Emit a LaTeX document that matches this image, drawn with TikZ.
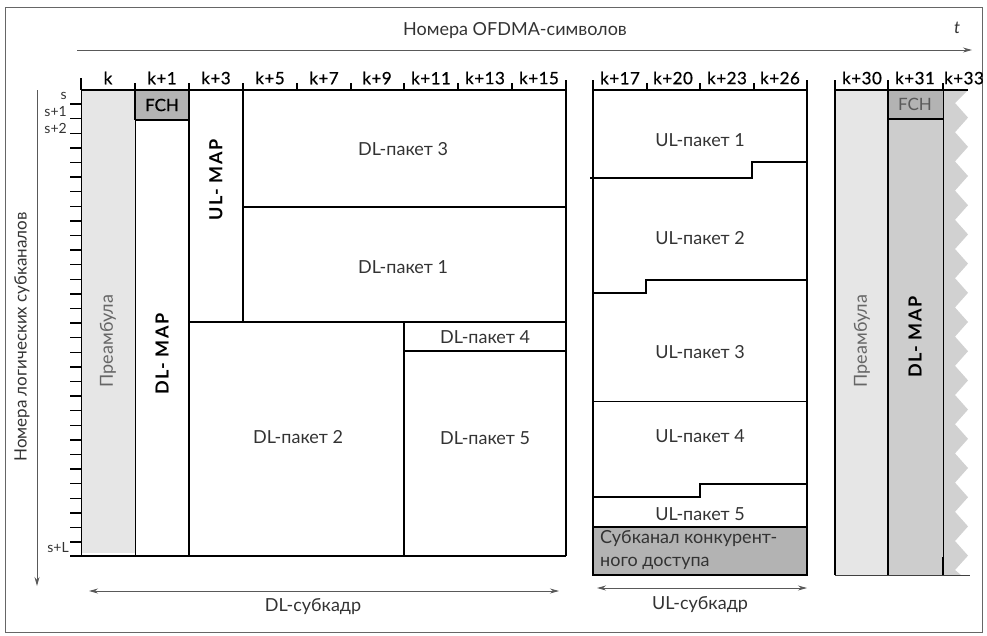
\documentclass[tikz,border=0pt]{standalone}
\usepackage{fontspec}
\setmainfont{Lato}
\usetikzlibrary{arrows.meta}
\definecolor{pre}{HTML}{E6E6E6}
\definecolor{fch}{HTML}{B3B3B3}
\definecolor{mapc}{HTML}{CDCDCD}
\definecolor{txtc}{HTML}{333333}
\begin{document}
\begin{tikzpicture}[x=1pt,y=-1pt,
  bl/.style={draw=black, line width=1.6pt},
  thinl/.style={draw=black, line width=0.9pt},
  axisl/.style={draw=black!65, line width=0.9pt},
  arr/.style={-{Stealth[length=9pt,width=5pt]}},
  darr/.style={{Stealth[length=9pt,width=5pt]}-{Stealth[length=9pt,width=5pt]}},
  txt/.style={font=\fontsize{18}{23}\selectfont, text=txtc, inner sep=0pt},
  col/.style={font=\fontsize{17}{20}\selectfont\addfontfeature{FakeBold=0.6,LetterSpace=3}, text=black, inner sep=0pt},
  bld/.style={font=\fontsize{18}{22}\selectfont\bfseries\addfontfeature{LetterSpace=8}, text=black, inner sep=0pt},
  small/.style={font=\fontsize{14}{16}\selectfont, text=txtc, inner sep=0pt}
]
\useasboundingbox (0,0) rectangle (987,635);
\draw[draw=black!60, line width=0.9pt] (5,7) rectangle (982,632);

% top axis
\coordinate (tA) at (77,50);
\coordinate (tB) at (972,50);
\draw[axisl, arr] (tA) -- (tB);
\node[txt] (ttl) at (515,31) {Номера OFDMA-символов};
\node[txt, font=\fontsize{17}{20}\selectfont\itshape] (tt) at (957,28) {t};

% left axis
\coordinate (lA) at (37,90);
\coordinate (lB) at (37,586);
\draw[axisl, arr] (lA) -- (lB);
\node[txt, font=\fontsize{17}{20}\selectfont, rotate=90] (ltl) at (22,337) {Номера логических субканалов};

% ---------------- DL part ----------------
\fill[pre] (81,90) rectangle (135,553);
\fill[fch] (135,90) rectangle (189,120);
\node[txt, rotate=90, text=black!60] (pre1) at (108,341) {Преамбула};
\node[bld, font=\fontsize{17}{20}\selectfont\addfontfeature{FakeBold=0.6}] (fch1) at (162,105) {FCH};
\node[bld, rotate=90] (dlmap) at (162,354) {DL- MAP};
\node[bld, rotate=90] (ulmap) at (216,180) {UL- MAP};
\node[txt] (dl3) at (403,149) {DL-пакет 3};
\node[txt] (dl1) at (403,267) {DL-пакет 1};
\node[txt] (dl2) at (298,437) {DL-пакет 2};
\node[txt] (dl4) at (485,337) {DL-пакет 4};
\node[txt] (dl5) at (485,438) {DL-пакет 5};

\draw[thinl] (81,90) -- (81,556);
\draw[thinl] (135,90) -- (135,556);
\draw[bl] (81,90) -- (566,90);
\draw[bl] (189,90) -- (189,556);
\draw[bl] (243,90) -- (243,322);
\draw[bl] (404,322) -- (404,556);
\draw[bl] (566,80) -- (566,556);
\draw[bl] (135,120) -- (189,120);
\draw[bl] (135,90) -- (135,120);
\draw[bl] (243,207) -- (566,207);
\draw[bl] (189,322) -- (566,322);
\draw[bl] (404,351) -- (566,351);
\draw[bl] (70,556) -- (566,556);
\draw[bl, line width=1.3pt] (81,78) -- (81,90);
\foreach \x in {135,189,243,297,351,404,458,512}
  \draw[bl, line width=1.3pt] (\x,83) -- (\x,90);
\foreach \i in {0,...,30}
  \draw[bl, line width=1.4pt] (70,{104+14.6*\i}) -- (81,{104+14.6*\i});

\node[col] (ck) at (108,78) {k};
\node[col] (c1) at (162,78) {k+1};
\node[col] (c3) at (216,78) {k+3};
\node[col] (c5) at (270,78) {k+5};
\node[col] (c7) at (324,78) {k+7};
\node[col] (c9) at (377,78) {k+9};
\node[col] (c11) at (431,78) {k+11};
\node[col] (c13) at (485,78) {k+13};
\node[col] (c15) at (539,78) {k+15};

\node[small, anchor=east] (s0) at (67,96) {s};
\node[small, anchor=east] (s1) at (67,112) {s+1};
\node[small, anchor=east] (s2) at (67,128) {s+2};
\node[small, anchor=east] (sL) at (69,548) {s+L};

\coordinate (dA) at (89,591);
\coordinate (dB) at (559,591);
\draw[axisl, darr] (dA) -- (dB);
\node[txt] (dlsf) at (313,607) {DL-субкадр};

% ---------------- UL part ----------------
\fill[fch] (593,527) rectangle (807,575);
\node[txt] (ul1) at (700,140) {UL-пакет 1};
\node[txt] (ul2) at (700,238) {UL-пакет 2};
\node[txt] (ul3) at (700,352) {UL-пакет 3};
\node[txt] (ul4) at (700,436) {UL-пакет 4};
\node[txt] (ul5) at (700,514) {UL-пакет 5};
\node[txt, anchor=west] (cb1) at (600,539) {Субканал конкурент-};
\node[txt, anchor=west] (cb2) at (600,563) {ного доступа};

\draw[bl] (593,90) -- (807,90);
\draw[bl] (593,80) -- (593,575) -- (807,575) -- (807,80);
\foreach \x in {647,700,754}
  \draw[bl, line width=1.3pt] (\x,83) -- (\x,90);
\draw[bl] (590,178) -- (752,178) -- (752,162) -- (807,162);
\draw[bl] (593,293) -- (646,293) -- (646,280) -- (807,280);
\draw[thinl] (593,401) -- (807,401);
\draw[bl] (593,497) -- (700,497) -- (700,484) -- (807,484);
\draw[bl] (593,527) -- (807,527);

\node[col] (c17) at (620,78) {k+17};
\node[col] (c20) at (673,78) {k+20};
\node[col] (c23) at (727,78) {k+23};
\node[col] (c26) at (780,78) {k+26};

\coordinate (uA) at (597,588);
\coordinate (uB) at (807,588);
\draw[axisl, darr] (uA) -- (uB);
\node[txt] (ulsf) at (700,605) {UL-субкадр};

% ---------------- next frame ----------------
\fill[pre] (835,90) rectangle (888,575);
\fill[mapc] (888,90) rectangle (943,575);
\fill[fch] (888,90) rectangle (943,119);
\fill[black!18] (943,90) -- (968,90)
  foreach \i in {0,...,15} { -- (955,{103+29.2*\i}) -- (968,{117.6+29.2*\i}) }
  -- (955,570) -- (961,575) -- (943,575) -- cycle;
\node[txt, rotate=90, text=black!60] (pre2) at (862,341) {Преамбула};
\node[bld, rotate=90] (dlmap2) at (915,337) {DL- MAP};
\node[txt, text=black!65, font=\fontsize{17}{20}\selectfont] (fch2) at (915,104) {FCH};

\draw[bl] (835,90) -- (968,90);
\draw[bl] (835,80) -- (835,575);
\draw[bl] (888,80) -- (888,575);
\draw[bl, line width=1.3pt] (943,83) -- (943,90);
\draw[thinl] (943,90) -- (943,575);
\draw[bl] (943,557) -- (943,575);
\draw[bl] (888,119) -- (943,119);
\draw[draw=black!75, line width=1pt] (835,575) -- (970,575);

\node[col] (c30) at (862,78) {k+30};
\node[col] (c31) at (915,78) {k+31};
\node[col] (c33) at (964,78) {k+33};
\end{tikzpicture}
\end{document}
